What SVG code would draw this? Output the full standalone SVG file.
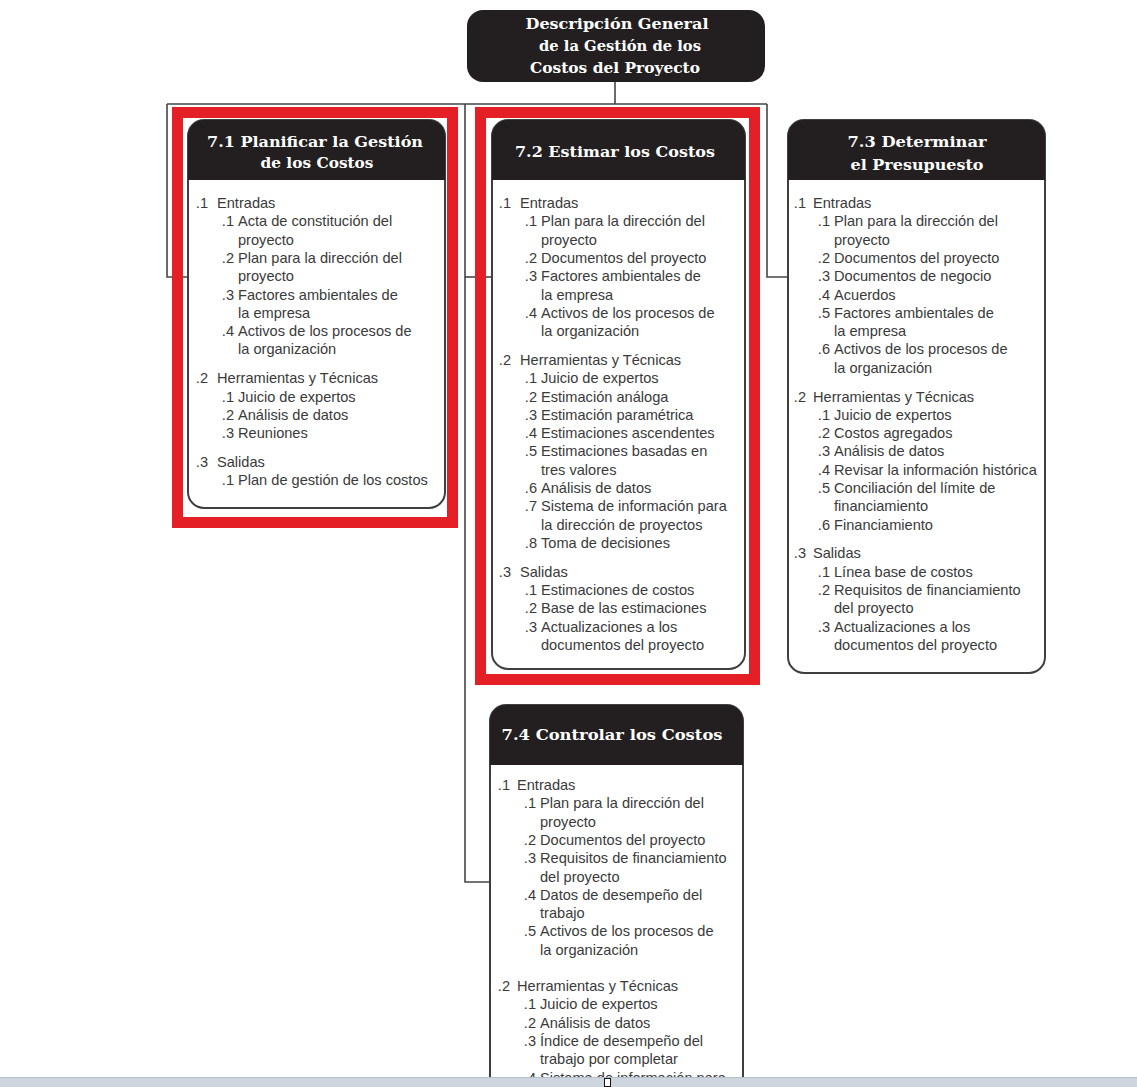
<svg xmlns="http://www.w3.org/2000/svg" width="1137" height="1087" viewBox="0 0 1137 1087">
<style>
.hd{font-family:"DejaVu Serif","Liberation Serif",serif;font-weight:bold;font-size:15px;fill:#ffffff;text-anchor:middle}
.t{font-family:"Liberation Sans",Arial,sans-serif;font-size:14.6px;fill:#3a3a3a}
.n{font-family:"Liberation Sans",Arial,sans-serif;font-size:14.6px;fill:#3a3a3a;text-anchor:end}
.box{fill:#ffffff;stroke:#3f3f3f;stroke-width:2}
.hdr{fill:#231f20}
.con{fill:none;stroke:#454545;stroke-width:1.6}
.red{fill:none;stroke:#e41f26;stroke-width:11}
</style>
<rect width="1137" height="1087" fill="#ffffff"/>

<g id="connectors">
<path class="con" d="M615,82 V104"/>
<path class="con" d="M167,104 H767"/>
<path class="con" d="M167,104 V277 H188"/>
<path class="con" d="M465,104 V882 H490"/>
<path class="con" d="M465,277 H492"/>
<path class="con" d="M767,104 V277 H788"/>
</g>

<g id="highlights">
<rect class="red" x="177.5" y="112.5" width="275" height="410"/>
<rect class="red" x="480.5" y="112.5" width="274" height="567"/>
</g>

<g id="root">
<rect x="467" y="10" width="298" height="72" rx="16" fill="#231f20"/>
<text class="hd" x="617" y="29" textLength="183" lengthAdjust="spacingAndGlyphs">Descripción General</text>
<text class="hd" x="620" y="51" textLength="162" lengthAdjust="spacingAndGlyphs">de la Gestión de los</text>
<text class="hd" x="615" y="73" textLength="170" lengthAdjust="spacingAndGlyphs">Costos del Proyecto</text>
</g>

<g id="n71">
<rect class="box" x="188" y="120" width="257" height="388" rx="16"/>
<path class="hdr" d="M188,180 V136 A16,16 0 0 1 204,120 H429 A16,16 0 0 1 445,136 V180 Z"/>
<text class="hd" x="315" y="147" textLength="216" lengthAdjust="spacingAndGlyphs">7.1 Planificar la Gestión</text>
<text class="hd" x="317" y="168" textLength="113" lengthAdjust="spacingAndGlyphs">de los Costos</text>
<text class="n" x="208" y="208">.1</text><text class="t" x="217" y="208">Entradas</text>
<text class="n" x="234" y="226.3">.1</text><text class="t" x="238" y="226.3">Acta de constitución del</text>
<text class="t" x="238" y="244.6">proyecto</text>
<text class="n" x="234" y="262.9">.2</text><text class="t" x="238" y="262.9">Plan para la dirección del</text>
<text class="t" x="238" y="281.2">proyecto</text>
<text class="n" x="234" y="299.5">.3</text><text class="t" x="238" y="299.5">Factores ambientales de</text>
<text class="t" x="238" y="317.8">la empresa</text>
<text class="n" x="234" y="336.1">.4</text><text class="t" x="238" y="336.1">Activos de los procesos de</text>
<text class="t" x="238" y="354.4">la organización</text>
<text class="n" x="208" y="383.2">.2</text><text class="t" x="217" y="383.2">Herramientas y Técnicas</text>
<text class="n" x="234" y="401.5">.1</text><text class="t" x="238" y="401.5">Juicio de expertos</text>
<text class="n" x="234" y="419.8">.2</text><text class="t" x="238" y="419.8">Análisis de datos</text>
<text class="n" x="234" y="438.1">.3</text><text class="t" x="238" y="438.1">Reuniones</text>
<text class="n" x="208" y="466.9">.3</text><text class="t" x="217" y="466.9">Salidas</text>
<text class="n" x="234" y="485.2">.1</text><text class="t" x="238" y="485.2">Plan de gestión de los costos</text>
</g>

<g id="n72">
<rect class="box" x="492" y="120" width="253" height="549" rx="16"/>
<path class="hdr" d="M492,180 V136 A16,16 0 0 1 508,120 H729 A16,16 0 0 1 745,136 V180 Z"/>
<text class="hd" x="615" y="157" textLength="200" lengthAdjust="spacingAndGlyphs">7.2 Estimar los Costos</text>
<text class="n" x="511" y="208">.1</text><text class="t" x="520" y="208">Entradas</text>
<text class="n" x="537" y="226.3">.1</text><text class="t" x="541" y="226.3">Plan para la dirección del</text>
<text class="t" x="541" y="244.6">proyecto</text>
<text class="n" x="537" y="262.9">.2</text><text class="t" x="541" y="262.9">Documentos del proyecto</text>
<text class="n" x="537" y="281.2">.3</text><text class="t" x="541" y="281.2">Factores ambientales de</text>
<text class="t" x="541" y="299.5">la empresa</text>
<text class="n" x="537" y="317.8">.4</text><text class="t" x="541" y="317.8">Activos de los procesos de</text>
<text class="t" x="541" y="336.1">la organización</text>
<text class="n" x="511" y="364.9">.2</text><text class="t" x="520" y="364.9">Herramientas y Técnicas</text>
<text class="n" x="537" y="383.2">.1</text><text class="t" x="541" y="383.2">Juicio de expertos</text>
<text class="n" x="537" y="401.5">.2</text><text class="t" x="541" y="401.5">Estimación análoga</text>
<text class="n" x="537" y="419.8">.3</text><text class="t" x="541" y="419.8">Estimación paramétrica</text>
<text class="n" x="537" y="438.1">.4</text><text class="t" x="541" y="438.1">Estimaciones ascendentes</text>
<text class="n" x="537" y="456.4">.5</text><text class="t" x="541" y="456.4">Estimaciones basadas en</text>
<text class="t" x="541" y="474.7">tres valores</text>
<text class="n" x="537" y="493">.6</text><text class="t" x="541" y="493">Análisis de datos</text>
<text class="n" x="537" y="511.3">.7</text><text class="t" x="541" y="511.3">Sistema de información para</text>
<text class="t" x="541" y="529.6">la dirección de proyectos</text>
<text class="n" x="537" y="547.9">.8</text><text class="t" x="541" y="547.9">Toma de decisiones</text>
<text class="n" x="511" y="576.7">.3</text><text class="t" x="520" y="576.7">Salidas</text>
<text class="n" x="537" y="595">.1</text><text class="t" x="541" y="595">Estimaciones de costos</text>
<text class="n" x="537" y="613.3">.2</text><text class="t" x="541" y="613.3">Base de las estimaciones</text>
<text class="n" x="537" y="631.6">.3</text><text class="t" x="541" y="631.6">Actualizaciones a los</text>
<text class="t" x="541" y="649.9">documentos del proyecto</text>
</g>

<g id="n73">
<rect class="box" x="788" y="120" width="257" height="553" rx="16"/>
<path class="hdr" d="M788,180 V136 A16,16 0 0 1 804,120 H1029 A16,16 0 0 1 1045,136 V180 Z"/>
<text class="hd" x="917" y="147" textLength="139" lengthAdjust="spacingAndGlyphs">7.3 Determinar</text>
<text class="hd" x="917" y="170" textLength="133" lengthAdjust="spacingAndGlyphs">el Presupuesto</text>
<text class="n" x="806" y="208">.1</text><text class="t" x="813" y="208">Entradas</text>
<text class="n" x="830" y="226.3">.1</text><text class="t" x="834" y="226.3">Plan para la dirección del</text>
<text class="t" x="834" y="244.6">proyecto</text>
<text class="n" x="830" y="262.9">.2</text><text class="t" x="834" y="262.9">Documentos del proyecto</text>
<text class="n" x="830" y="281.2">.3</text><text class="t" x="834" y="281.2">Documentos de negocio</text>
<text class="n" x="830" y="299.5">.4</text><text class="t" x="834" y="299.5">Acuerdos</text>
<text class="n" x="830" y="317.8">.5</text><text class="t" x="834" y="317.8">Factores ambientales de</text>
<text class="t" x="834" y="336.1">la empresa</text>
<text class="n" x="830" y="354.4">.6</text><text class="t" x="834" y="354.4">Activos de los procesos de</text>
<text class="t" x="834" y="372.7">la organización</text>
<text class="n" x="806" y="401.5">.2</text><text class="t" x="813" y="401.5">Herramientas y Técnicas</text>
<text class="n" x="830" y="419.8">.1</text><text class="t" x="834" y="419.8">Juicio de expertos</text>
<text class="n" x="830" y="438.1">.2</text><text class="t" x="834" y="438.1">Costos agregados</text>
<text class="n" x="830" y="456.4">.3</text><text class="t" x="834" y="456.4">Análisis de datos</text>
<text class="n" x="830" y="474.7">.4</text><text class="t" x="834" y="474.7">Revisar la información histórica</text>
<text class="n" x="830" y="493">.5</text><text class="t" x="834" y="493">Conciliación del límite de</text>
<text class="t" x="834" y="511.3">financiamiento</text>
<text class="n" x="830" y="529.6">.6</text><text class="t" x="834" y="529.6">Financiamiento</text>
<text class="n" x="806" y="558.4">.3</text><text class="t" x="813" y="558.4">Salidas</text>
<text class="n" x="830" y="576.7">.1</text><text class="t" x="834" y="576.7">Línea base de costos</text>
<text class="n" x="830" y="595">.2</text><text class="t" x="834" y="595">Requisitos de financiamiento</text>
<text class="t" x="834" y="613.3">del proyecto</text>
<text class="n" x="830" y="631.6">.3</text><text class="t" x="834" y="631.6">Actualizaciones a los</text>
<text class="t" x="834" y="649.9">documentos del proyecto</text>
</g>

<g id="n74">
<rect class="box" x="490" y="705" width="253" height="420" rx="16"/>
<path class="hdr" d="M490,765 V721 A16,16 0 0 1 506,705 H727 A16,16 0 0 1 743,721 V765 Z"/>
<text class="hd" x="612" y="740" textLength="221" lengthAdjust="spacingAndGlyphs">7.4 Controlar los Costos</text>
<text class="n" x="510" y="790">.1</text><text class="t" x="517" y="790">Entradas</text>
<text class="n" x="536" y="808.3">.1</text><text class="t" x="540" y="808.3">Plan para la dirección del</text>
<text class="t" x="540" y="826.6">proyecto</text>
<text class="n" x="536" y="844.9">.2</text><text class="t" x="540" y="844.9">Documentos del proyecto</text>
<text class="n" x="536" y="863.2">.3</text><text class="t" x="540" y="863.2">Requisitos de financiamiento</text>
<text class="t" x="540" y="881.5">del proyecto</text>
<text class="n" x="536" y="899.8">.4</text><text class="t" x="540" y="899.8">Datos de desempeño del</text>
<text class="t" x="540" y="918.1">trabajo</text>
<text class="n" x="536" y="936.4">.5</text><text class="t" x="540" y="936.4">Activos de los procesos de</text>
<text class="t" x="540" y="954.7">la organización</text>
<text class="n" x="510" y="991">.2</text><text class="t" x="517" y="991">Herramientas y Técnicas</text>
<text class="n" x="536" y="1009.3">.1</text><text class="t" x="540" y="1009.3">Juicio de expertos</text>
<text class="n" x="536" y="1027.6">.2</text><text class="t" x="540" y="1027.6">Análisis de datos</text>
<text class="n" x="536" y="1045.9">.3</text><text class="t" x="540" y="1045.9">Índice de desempeño del</text>
<text class="t" x="540" y="1064.2">trabajo por completar</text>
<text class="n" x="536" y="1082.5">.4</text><text class="t" x="540" y="1082.5">Sistema de información para</text>
</g>

<g id="statusbar">
<rect x="0" y="1077" width="1137" height="10" fill="#cdd5df"/>
<line x1="0" y1="1077.5" x2="1137" y2="1077.5" stroke="#b5c0cc" stroke-width="1"/>
<rect x="604.5" y="1078.5" width="6" height="8" fill="#ffffff" stroke="#111111" stroke-width="1"/>
</g>
</svg>
